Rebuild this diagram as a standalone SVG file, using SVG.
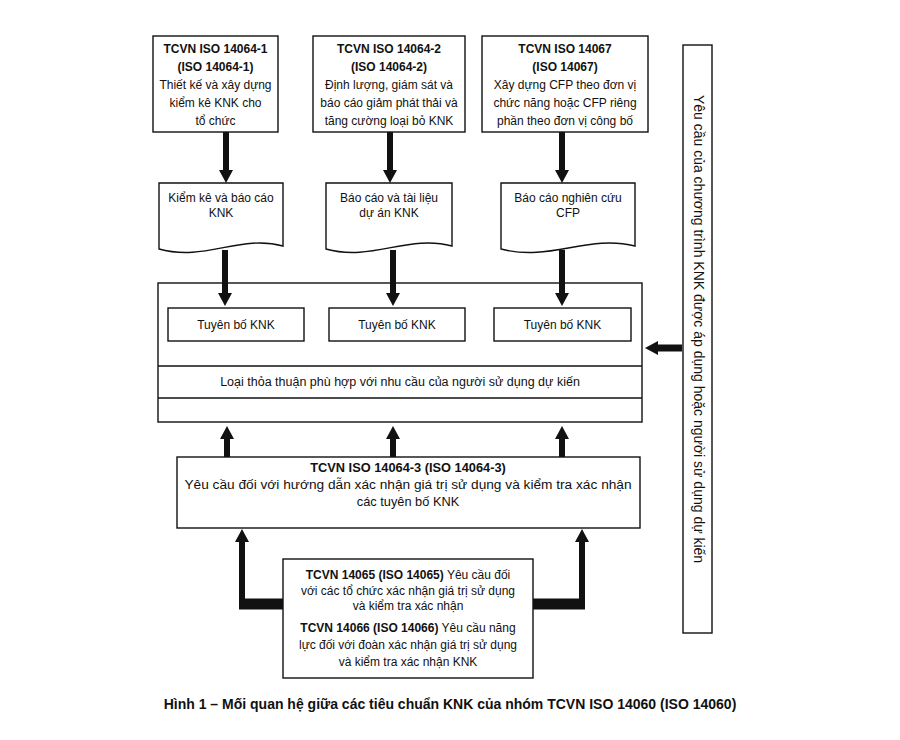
<svg xmlns="http://www.w3.org/2000/svg" width="900" height="740" viewBox="0 0 900 740">
<defs>
<style>
.box{fill:#fff;stroke:#111;stroke-width:1.4}
.t{font-family:"Liberation Sans",Arial,sans-serif;font-size:12px;fill:#111;text-anchor:middle}
.b{font-weight:bold}
.cap{font-family:"Liberation Sans",Arial,sans-serif;font-size:14px;font-weight:bold;fill:#111;text-anchor:middle}
.shaft{stroke:#111;stroke-width:6;fill:none}
.bar{stroke:#111;stroke-width:11;fill:none}
</style>
<marker id="ah" viewBox="0 0 13 14" refX="0" refY="7" markerWidth="13" markerHeight="14" markerUnits="userSpaceOnUse" orient="auto">
<path d="M0,0 L13,7 L0,14 Z" fill="#111"/>
</marker>
</defs>
<rect width="900" height="740" fill="#fff"/>

<g id="box-14064-1">
<rect class="box" x="153" y="36" width="125" height="96"/>
<text class="t b" x="215.5" y="53">TCVN ISO 14064-1</text>
<text class="t b" x="215.5" y="71">(ISO 14064-1)</text>
<text class="t" x="215.5" y="89">Thiết kế và xây dựng</text>
<text class="t" x="215.5" y="107">kiểm kê KNK cho</text>
<text class="t" x="215.5" y="125">tổ chức</text>
</g>
<g id="box-14064-2">
<rect class="box" x="313" y="36" width="152" height="96"/>
<text class="t b" x="389" y="53">TCVN ISO 14064-2</text>
<text class="t b" x="389" y="71">(ISO 14064-2)</text>
<text class="t" x="389" y="89">Định lượng, giám sát và</text>
<text class="t" x="389" y="107">báo cáo giảm phát thải và</text>
<text class="t" x="389" y="125">tăng cường loại bỏ KNK</text>
</g>
<g id="box-14067">
<rect class="box" x="482" y="36" width="166" height="96"/>
<text class="t b" x="565" y="53">TCVN ISO 14067</text>
<text class="t b" x="565" y="71">(ISO 14067)</text>
<text class="t" x="565" y="89">Xây dựng CFP theo đơn vị</text>
<text class="t" x="565" y="107">chức năng hoặc CFP riêng</text>
<text class="t" x="565" y="125">phần theo đơn vị công bố</text>
</g>

<g id="doc-1">
<path class="box" d="M159,183 H283 V246 C240,234 205,262 159,249 Z"/>
<text class="t" x="221" y="202">Kiểm kê và báo cáo</text>
<text class="t" x="221" y="217">KNK</text>
</g>
<g id="doc-2">
<path class="box" d="M326,183 H452 V246 C408,234 372,262 326,249 Z"/>
<text class="t" x="389" y="202">Báo cáo và tài liệu</text>
<text class="t" x="389" y="217">dự án KNK</text>
</g>
<g id="doc-3">
<path class="box" d="M501,183 H635 V246 C588,234 550,262 501,249 Z"/>
<text class="t" x="568" y="202">Báo cáo nghiên cứu</text>
<text class="t" x="568" y="217">CFP</text>
</g>

<g id="container">
<rect class="box" x="158" y="283" width="484" height="139"/>
<line x1="158" y1="366" x2="642" y2="366" stroke="#111" stroke-width="1.4"/>
<line x1="158" y1="398" x2="642" y2="398" stroke="#111" stroke-width="1.4"/>
<text class="t" x="400" y="386" style="font-size:12.5px">Loại thỏa thuận phù hợp với nhu cầu của người sử dụng dự kiến</text>
</g>
<g id="claim-1">
<rect class="box" x="168" y="308" width="136" height="33"/>
<text class="t" x="236" y="329">Tuyên bố KNK</text>
</g>
<g id="claim-2">
<rect class="box" x="329" y="308" width="136" height="33"/>
<text class="t" x="397" y="329">Tuyên bố KNK</text>
</g>
<g id="claim-3">
<rect class="box" x="494" y="308" width="137" height="33"/>
<text class="t" x="562.5" y="329">Tuyên bố KNK</text>
</g>

<g id="box-14064-3">
<rect class="box" x="177" y="457" width="463" height="71"/>
<text class="t b" x="408" y="472" style="font-size:12.8px">TCVN ISO 14064-3 (ISO 14064-3)</text>
<text class="t" x="408" y="489" style="font-size:13.7px">Yêu cầu đối với hướng dẫn xác nhận giá trị sử dụng và kiểm tra xác nhận</text>
<text class="t" x="408" y="506" style="font-size:12.8px">các tuyên bố KNK</text>
</g>

<g id="box-14065-14066">
<rect class="box" x="283" y="559" width="250" height="119"/>
<text class="t" x="408" y="579"><tspan class="b">TCVN 14065 (ISO 14065)</tspan> Yêu cầu đối</text>
<text class="t" x="408" y="595">với các tổ chức xác nhận giá trị sử dụng</text>
<text class="t" x="408" y="610">và kiểm tra xác nhận</text>
<text class="t" x="408" y="632"><tspan class="b">TCVN 14066 (ISO 14066)</tspan> Yêu cầu năng</text>
<text class="t" x="408" y="649">lực đối với đoàn xác nhận giá trị sử dụng</text>
<text class="t" x="408" y="666">và kiểm tra xác nhận KNK</text>
</g>

<g id="program-requirements">
<rect class="box" x="683" y="45" width="29" height="588"/>
<text class="t" style="font-size:14px" transform="translate(694,329) rotate(90)" x="0" y="0">Yêu cầu của chương trình KNK được áp dụng hoặc người sử dụng dự kiến</text>
</g>

<g id="connectors">
<line class="shaft" x1="226" y1="132" x2="226" y2="170" marker-end="url(#ah)"/>
<line class="shaft" x1="390" y1="132" x2="390" y2="170" marker-end="url(#ah)"/>
<line class="shaft" x1="562" y1="132" x2="562" y2="170" marker-end="url(#ah)"/>
<line class="shaft" x1="225" y1="250" x2="225" y2="293" marker-end="url(#ah)"/>
<line class="shaft" x1="393" y1="250" x2="393" y2="293" marker-end="url(#ah)"/>
<line class="shaft" x1="562" y1="250" x2="562" y2="293" marker-end="url(#ah)"/>
<line class="shaft" x1="227" y1="457" x2="227" y2="439" marker-end="url(#ah)"/>
<line class="shaft" x1="393" y1="457" x2="393" y2="439" marker-end="url(#ah)"/>
<line class="shaft" x1="562" y1="457" x2="562" y2="439" marker-end="url(#ah)"/>
<line class="shaft" style="stroke-width:7" x1="682" y1="348" x2="658" y2="348" marker-end="url(#ah)"/>
<line class="bar" x1="239" y1="604" x2="283" y2="604"/>
<line class="shaft" x1="242" y1="609" x2="242" y2="542" marker-end="url(#ah)"/>
<line class="bar" x1="533" y1="604" x2="585" y2="604"/>
<line class="shaft" x1="582" y1="609" x2="582" y2="542" marker-end="url(#ah)"/>
</g>

<text id="caption" class="cap" x="450" y="709">Hình 1 – Mối quan hệ giữa các tiêu chuẩn KNK của nhóm TCVN ISO 14060 (ISO 14060)</text>
</svg>
